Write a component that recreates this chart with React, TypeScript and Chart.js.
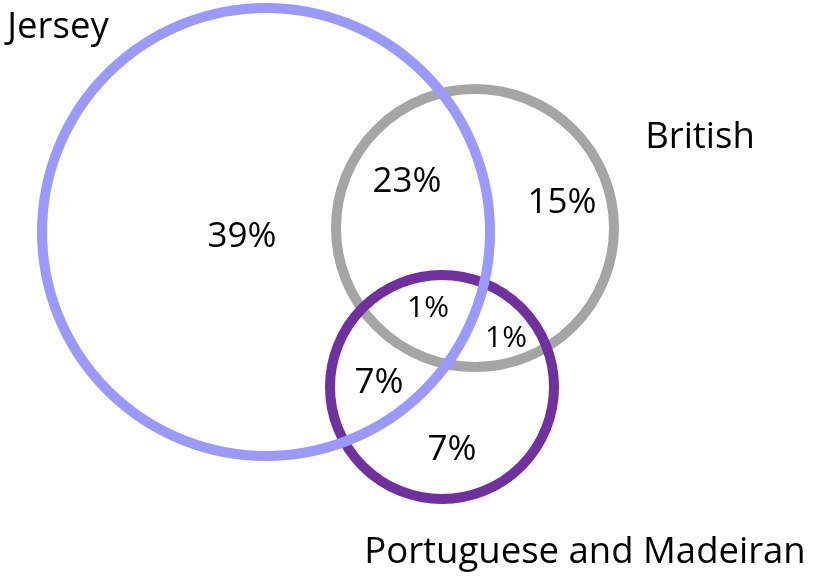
import React, { useEffect, useRef } from "react";
import { Chart, registerables } from "chart.js";

Chart.register(...registerables);

// Sets (circle centre x, centre y, radius in drawing units)
const setNames = ["Jersey", "Portuguese and Madeiran", "British"];
const setX = [266, 442, 475];
const setY = [232, 387, 228];
const setR = [224, 112, 139];
const setColors = ["#9999FF", "#7030A0", "#A5A5A5"];

// Set-name labels (anchor points)
const nameLabelX = [58, 585, 700];
const nameLabelY = [38, 563, 148];

// Region percentages
const regionValues = ["39%", "23%", "15%", "1%", "1%", "7%", "7%"];
const regionX = [242, 407, 562, 428, 506, 379, 452];
const regionY = [247, 192, 213, 317, 347, 393, 460];
const regionSmall = [false, false, false, true, true, false, false];

const FONT = "'Open Sans', 'Noto Sans', sans-serif";

const labelPlugin = {
  id: "vennLabels",
  afterDatasetsDraw(chart: any) {
    const { ctx, scales } = chart;
    const xs = scales.x;
    const ys = scales.y;
    ctx.save();
    ctx.fillStyle = "#000000";
    ctx.textAlign = "center";
    ctx.textBaseline = "alphabetic";
    regionValues.forEach((v, i) => {
      ctx.font = `${regionSmall[i] ? 30 : 35}px ${FONT}`;
      ctx.fillText(v, xs.getPixelForValue(regionX[i]), ys.getPixelForValue(regionY[i]));
    });
    ctx.font = `36.5px ${FONT}`;
    setNames.forEach((n, i) => {
      ctx.fillText(n, xs.getPixelForValue(nameLabelX[i]), ys.getPixelForValue(nameLabelY[i]));
    });
    ctx.restore();
  },
};

export default function App() {
  const ref = useRef<HTMLCanvasElement | null>(null);
  useEffect(() => {
    if (!ref.current) return;
    const chart = new Chart(ref.current, {
      type: "bubble",
      data: {
        datasets: setNames.map((name, i) => ({
          label: name,
          data: [{ x: setX[i], y: setY[i], r: setR[i] }],
          backgroundColor: "rgba(0,0,0,0)",
          borderColor: setColors[i],
          borderWidth: 10,
          hoverBorderWidth: 10,
          clip: false,
        })),
      },
      options: {
        responsive: false,
        animation: false,
        events: [],
        layout: { padding: 0, autoPadding: false },
        plugins: { legend: { display: false }, tooltip: { enabled: false } },
        scales: {
          x: { type: "linear", min: 0, max: 815, display: false },
          y: { type: "linear", min: 0, max: 577, reverse: true, display: false },
        },
      },
      plugins: [labelPlugin],
    });
    return () => chart.destroy();
  }, []);
  return (
    <div style={{ position: "fixed", left: 0, top: 0, width: 815, height: 577, background: "#fff" }}>
      <canvas ref={ref} width={815} height={577} />
    </div>
  );
}
